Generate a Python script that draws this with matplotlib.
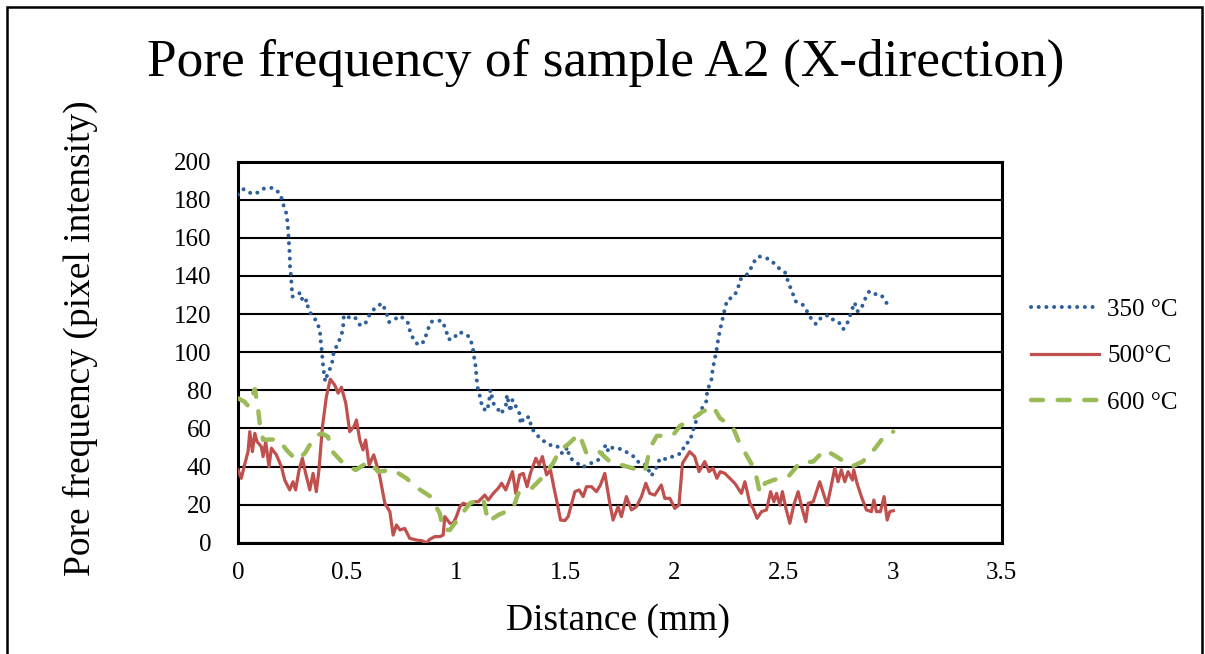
import numpy as np
import matplotlib
matplotlib.use('Agg')
import matplotlib.pyplot as plt
from matplotlib.patches import Rectangle

plt.rcParams['font.family'] = ['Liberation Serif', 'DejaVu Serif']

# Data (distance in mm, pixel intensity)

x350 = [0.000, 0.026, 0.066, 0.096, 0.120, 0.160, 0.194, 0.206, 0.222, 0.228,
        0.231, 0.234, 0.237, 0.238, 0.243, 0.246, 0.249, 0.267, 0.286, 0.298,
        0.316, 0.322, 0.341, 0.359, 0.375, 0.379, 0.384, 0.388, 0.393, 0.400,
        0.410, 0.430, 0.436, 0.454, 0.474, 0.482, 0.485, 0.500, 0.534, 0.558,
        0.581, 0.600, 0.628, 0.660, 0.680, 0.692, 0.708, 0.744, 0.778, 0.790,
        0.810, 0.830, 0.854, 0.867, 0.885, 0.913, 0.934, 0.952, 0.964, 0.986,
        1.010, 1.035, 1.062, 1.075, 1.082, 1.090, 1.093, 1.099, 1.111, 1.120,
        1.142, 1.151, 1.157, 1.170, 1.192, 1.206, 1.228, 1.233, 1.248, 1.258,
        1.270, 1.291, 1.295, 1.313, 1.337, 1.343, 1.365, 1.395, 1.420, 1.441,
        1.466, 1.487, 1.511, 1.518, 1.545, 1.579, 1.617, 1.649, 1.671, 1.686,
        1.698, 1.716, 1.762, 1.796, 1.820, 1.839, 1.872, 1.894, 1.915, 1.934,
        1.969, 2.003, 2.033, 2.048, 2.071, 2.083, 2.099, 2.117, 2.148, 2.150,
        2.169, 2.175, 2.183, 2.193, 2.200, 2.209, 2.220, 2.230, 2.242, 2.270,
        2.290, 2.300, 2.323, 2.343, 2.362, 2.386, 2.413, 2.441, 2.472, 2.507,
        2.522, 2.539, 2.557, 2.591, 2.609, 2.630, 2.649, 2.676, 2.707, 2.737,
        2.759, 2.774, 2.795, 2.810, 2.826, 2.838, 2.854, 2.872, 2.893, 2.915,
        2.948, 2.970, 2.995]
y350 = [182.7, 185.6, 183.0, 184.0, 186.0, 186.3, 183.2, 178.0, 172.7, 167.0,
        161.6, 156.4, 151.0, 145.5, 140.0, 134.7, 129.2, 129.6, 131.3, 126.0,
        127.5, 122.2, 119.0, 116.5, 111.7, 106.0, 100.7, 95.3, 90.0, 84.6,
        88.6, 93.3, 98.6, 103.9, 108.6, 113.8, 119.3, 118.2, 118.7, 114.4,
        114.4, 119.1, 123.3, 125.7, 121.0, 115.8, 116.6, 119.1, 115.6, 110.3,
        105.4, 103.7, 105.8, 111.0, 116.0, 116.5, 116.5, 112.3, 106.8, 106.8,
        110.5, 110.0, 107.9, 103.0, 97.4, 92.0, 86.5, 81.1, 75.8, 70.6,
        69.2, 74.6, 80.2, 73.2, 70.0, 67.6, 72.3, 77.6, 68.8, 75.0,
        72.3, 67.6, 62.3, 66.2, 65.7, 60.6, 57.1, 53.6, 52.5, 50.4,
        50.4, 46.6, 50.1, 44.8, 42.6, 39.6, 41.7, 43.1, 48.0, 51.5,
        47.6, 49.9, 49.0, 46.4, 44.8, 41.7, 40.8, 35.0, 39.0, 44.3,
        43.8, 46.0, 46.9, 51.8, 53.1, 58.3, 63.6, 68.8, 74.6, 79.9,
        85.0, 90.4, 95.6, 100.9, 106.1, 111.7, 117.0, 122.2, 127.5, 129.0,
        132.7, 138.0, 139.8, 142.0, 147.1, 150.3, 149.7, 148.5, 144.7, 141.9,
        136.8, 131.7, 126.6, 124.7, 121.2, 117.0, 114.7, 118.7, 119.4, 115.9,
        115.2, 112.1, 115.9, 121.0, 126.1, 121.5, 122.2, 127.5, 132.0, 130.6,
        130.1, 126.1, 123.6]

x500 = [0.000, 0.015, 0.030, 0.046, 0.054, 0.066, 0.077, 0.087, 0.107, 0.115,
        0.127, 0.142, 0.153, 0.176, 0.199, 0.214, 0.237, 0.252, 0.264, 0.280,
        0.295, 0.310, 0.329, 0.344, 0.359, 0.371, 0.387, 0.405, 0.423, 0.443,
        0.459, 0.474, 0.494, 0.512, 0.531, 0.543, 0.558, 0.573, 0.585, 0.601,
        0.622, 0.647, 0.673, 0.696, 0.711, 0.726, 0.742, 0.764, 0.787, 0.818,
        0.841, 0.864, 0.879, 0.902, 0.925, 0.940, 0.948, 0.971, 0.986, 1.001,
        1.017, 1.032, 1.055, 1.078, 1.101, 1.131, 1.147, 1.170, 1.192, 1.208,
        1.227, 1.258, 1.273, 1.291, 1.307, 1.325, 1.340, 1.365, 1.380, 1.395,
        1.414, 1.432, 1.447, 1.463, 1.478, 1.498, 1.513, 1.544, 1.563, 1.582,
        1.597, 1.620, 1.643, 1.661, 1.681, 1.704, 1.719, 1.742, 1.757, 1.780,
        1.803, 1.826, 1.849, 1.869, 1.887, 1.910, 1.940, 1.956, 1.979, 2.002,
        2.021, 2.037, 2.070, 2.093, 2.113, 2.139, 2.159, 2.177, 2.195, 2.210,
        2.231, 2.254, 2.277, 2.307, 2.323, 2.346, 2.361, 2.379, 2.399, 2.422,
        2.441, 2.456, 2.468, 2.483, 2.495, 2.511, 2.529, 2.547, 2.567, 2.583,
        2.602, 2.613, 2.636, 2.666, 2.700, 2.715, 2.735, 2.750, 2.765, 2.781,
        2.796, 2.816, 2.822, 2.837, 2.857, 2.880, 2.903, 2.914, 2.926, 2.944,
        2.961, 2.975, 2.987, 3.003]
y500 = [38.2, 33.8, 40.8, 47.8, 58.3, 47.8, 57.4, 53.1, 50.4, 45.2,
        53.1, 39.9, 49.6, 46.1, 39.9, 32.9, 27.7, 32.0, 27.7, 38.2,
        44.3, 36.4, 27.7, 36.4, 26.8, 38.2, 60.9, 76.7, 85.8, 82.8,
        78.5, 81.6, 73.2, 58.3, 60.9, 64.4, 53.9, 48.7, 53.9, 40.8,
        46.1, 36.4, 20.7, 16.3, 4.0, 9.3, 6.7, 7.5, 2.3, 1.4,
        1.1, 0.0, 1.8, 3.2, 3.2, 4.0, 13.7, 10.2, 10.2, 13.7,
        18.9, 20.7, 19.8, 21.5, 21.5, 25.0, 22.4, 25.9, 28.5, 31.2,
        27.7, 37.3, 25.9, 35.6, 36.4, 29.4, 36.4, 44.3, 40.8, 45.2,
        35.6, 38.2, 29.4, 20.7, 11.9, 11.6, 13.7, 26.8, 27.7, 24.2,
        29.4, 29.4, 26.8, 30.3, 36.4, 20.7, 11.9, 18.9, 13.7, 24.2,
        17.2, 18.9, 24.2, 31.2, 25.9, 25.0, 30.3, 23.3, 23.3, 18.0,
        19.8, 41.7, 47.8, 45.2, 37.3, 42.6, 37.3, 39.1, 33.8, 37.3,
        36.4, 33.8, 31.2, 25.9, 32.0, 20.7, 18.0, 12.8, 16.3, 17.2,
        26.8, 21.5, 25.9, 19.8, 26.8, 18.0, 10.2, 19.8, 26.8, 18.9,
        11.0, 20.7, 21.5, 32.0, 19.8, 27.7, 39.1, 32.0, 38.2, 32.0,
        37.3, 32.9, 38.2, 31.2, 24.2, 17.2, 16.3, 22.4, 16.3, 16.3,
        24.2, 11.9, 16.3, 16.8]

x600 = [0.000, 0.030, 0.046, 0.077, 0.090, 0.100, 0.115, 0.183, 0.229, 0.268,
        0.306, 0.352, 0.383, 0.412, 0.433, 0.489, 0.540, 0.600, 0.642, 0.711,
        0.772, 0.825, 0.879, 0.925, 0.940, 0.971, 1.017, 1.063, 1.124, 1.146,
        1.192, 1.261, 1.284, 1.345, 1.391, 1.444, 1.475, 1.509, 1.564, 1.597,
        1.655, 1.704, 1.757, 1.811, 1.865, 1.888, 1.919, 1.995, 2.025, 2.086,
        2.129, 2.178, 2.209, 2.267, 2.292, 2.334, 2.369, 2.392, 2.415, 2.453,
        2.522, 2.575, 2.636, 2.690, 2.743, 2.812, 2.863, 2.920, 2.958, 3.003]
y600 = [75.8, 74.0, 71.8, 80.6, 72.3, 62.3, 54.0, 54.3, 47.8, 43.4,
        46.9, 55.7, 57.4, 55.7, 47.8, 40.8, 38.2, 42.6, 37.3, 38.2,
        33.8, 28.5, 24.5, 15.4, 6.7, 6.7, 13.7, 20.7, 23.3, 11.0,
        14.5, 18.0, 25.9, 28.5, 33.8, 41.7, 48.7, 51.3, 57.1, 46.9,
        47.8, 42.6, 40.8, 39.0, 37.3, 49.6, 56.0, 56.6, 61.3, 65.3,
        68.8, 71.5, 65.3, 60.9, 53.9, 45.2, 38.2, 25.9, 31.2, 32.9,
        34.7, 42.0, 42.6, 48.7, 45.2, 39.9, 42.6, 49.6, 55.3, 58.3]

xticks = [0, 0.5, 1, 1.5, 2, 2.5, 3, 3.5]
xticklabels = ['0', '0.5', '1', '1.5', '2', '2.5', '3', '3.5']
yticks = list(range(0, 201, 20))

W, H = 1205, 654
fig = plt.figure(figsize=(W/100, H/100), dpi=100)
ax = fig.add_axes([238/W, 1-542.7/H, (1001.7-238)/W, (542.7-161.7)/H])

l1, = ax.plot(x350, y350, color='#2F5F9A', lw=2.9, linestyle=(0, (0.01, 1.9)),
              dash_capstyle='round', label='350 °C', zorder=3)
l2, = ax.plot(x500, y500, color='#C0504D', lw=2.3, label='500°C', zorder=3)
l3, = ax.plot(x600, y600, color='#9BBB59', lw=3.2, linestyle=(0, (2.7, 3.3)),
              dash_capstyle='round', label='600 °C', zorder=3)

ax.set_xlim(0, 3.5)
ax.set_ylim(0, 200)
ax.set_xticks(xticks)
ax.set_xticklabels(xticklabels)
ax.set_yticks(yticks)
ax.tick_params(length=0, labelsize=18)
ax.tick_params(axis='y', pad=19)
ax.tick_params(axis='x', pad=14)
ax.yaxis.grid(True, color='black', lw=1.5)
ax.set_axisbelow(True)
for s in ax.spines.values():
    s.set_linewidth(2.2)
    s.set_color('black')

fig.text(606/W, 1-63/H, 'Pore frequency of sample A2 (X-direction)',
         ha='center', va='center', fontsize=38.4)
fig.text(618/W, 1-621/H, 'Distance (mm)', ha='center', va='center', fontsize=27)
fig.text(80/W, 1-338/H, 'Pore frequency (pixel intensity)', ha='center',
         va='center', rotation=90, fontsize=27)

fig.legend(handles=[l1, l2, l3], loc='center left',
           bbox_to_anchor=(1031/W, 1-356/H), frameon=False, fontsize=18,
           handlelength=2.7, handletextpad=0.35, labelspacing=0.97,
           borderpad=0, borderaxespad=0)

fig.patches.append(Rectangle((7/W, -0.1), (1202-7)/W, 1.1-7/H, transform=fig.transFigure,
                             fill=False, edgecolor='black', lw=1.8))

fig.savefig('out.png', dpi=100)
